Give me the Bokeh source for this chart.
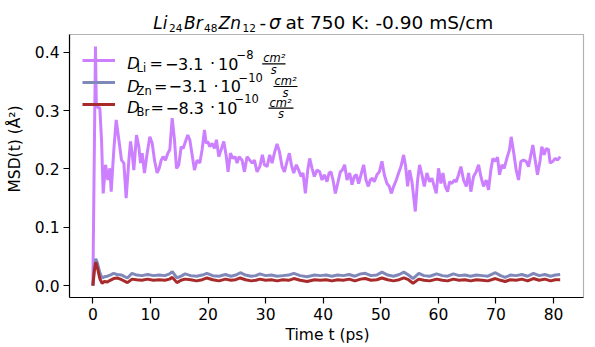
from bokeh.plotting import figure
from bokeh.models import Range1d, FixedTicker, Label, Legend, LegendItem, BoxAnnotation
from bokeh.embed import file_html
from bokeh.resources import INLINE

# ---------------- data ----------------
li_t = [0.0, 0.45, 0.6, 0.9, 1.2, 1.5, 1.79, 2.20, 2.60, 2.95, 3.18, 3.64, 4.05, 4.51, 4.97, 5.38, 5.78,
        6.25, 6.54, 6.82, 7.11, 7.58, 7.98, 8.27, 8.56, 8.96, 9.43, 9.89, 10.30, 10.70, 11.16, 11.51,
        11.86, 12.20, 12.61, 13.01, 13.36, 13.77, 14.17, 14.52, 14.92, 15.33, 15.67, 16.08, 16.48,
        16.83, 17.24, 17.64, 18.10, 18.57, 18.97, 19.38, 19.66, 19.95, 20.30, 20.71, 21.11, 21.46,
        21.86, 22.27, 22.73, 23.13, 23.48, 23.89, 24.29, 24.70, 25.04, 25.39, 25.91, 26.32, 26.78,
        27.24, 27.65, 28.05, 28.51, 28.98, 29.44, 29.79, 30.25, 30.71, 31.12, 31.52, 31.98, 32.39,
        32.85, 33.26, 33.72, 34.12, 34.47, 34.88, 35.34, 35.74, 36.15, 36.49, 36.90, 37.31, 37.65,
        38.06, 38.46, 38.92, 39.39, 39.79, 40.20, 40.66, 41.01, 41.35, 41.70, 42.11, 42.51, 42.97,
        43.32, 43.72, 44.13, 44.59, 45.00, 45.40, 45.75, 46.15, 46.56, 47.02, 47.43, 47.83, 48.18,
        48.53, 48.87, 49.33, 49.74, 50.20, 50.61, 51.07, 51.47, 51.82, 52.23, 52.69, 53.09, 53.50,
        53.96, 54.31, 54.66, 55.00, 55.41, 55.70, 55.99, 56.39, 56.74, 57.14, 57.55, 58.01, 58.47,
        58.88, 59.28, 59.63, 60.03, 60.44, 60.79, 61.19, 61.60, 61.94, 62.35, 62.75, 63.10, 63.50,
        63.91, 64.37, 64.84, 65.24, 65.64, 66.11, 66.57, 66.98, 67.38, 67.84, 68.31, 68.71, 69.11,
        69.46, 69.87, 70.27, 70.62, 71.02, 71.43, 71.89, 72.35, 72.64, 73.05, 73.51, 73.92, 74.32,
        74.78, 75.25, 75.65, 76.06, 76.40, 76.81, 77.21, 77.67, 77.96, 78.37, 78.72, 79.12, 79.41,
        79.88, 80.28, 80.68, 81.15]
li_msd = [0.0, 0.410, 0.310, 0.305, 0.305, 0.250, 0.158, 0.207, 0.181, 0.201, 0.161, 0.233, 0.284,
          0.250, 0.215, 0.210, 0.150, 0.215, 0.247, 0.227, 0.198, 0.258, 0.238, 0.210, 0.227, 0.193,
          0.227, 0.255, 0.244, 0.215, 0.193, 0.201, 0.215, 0.221, 0.215, 0.227, 0.233, 0.287, 0.250,
          0.201, 0.207, 0.238, 0.235, 0.247, 0.258, 0.250, 0.224, 0.198, 0.215, 0.210, 0.233, 0.267,
          0.244, 0.247, 0.238, 0.244, 0.235, 0.250, 0.221, 0.233, 0.247, 0.224, 0.195, 0.227, 0.218,
          0.221, 0.210, 0.221, 0.215, 0.195, 0.221, 0.215, 0.210, 0.215, 0.195, 0.204, 0.224, 0.207,
          0.204, 0.224, 0.210, 0.227, 0.243, 0.230, 0.204, 0.195, 0.213, 0.227, 0.207, 0.193, 0.207,
          0.198, 0.187, 0.193, 0.158, 0.198, 0.218, 0.201, 0.187, 0.198, 0.195, 0.181, 0.190, 0.178,
          0.193, 0.195, 0.181, 0.158, 0.175, 0.195, 0.198, 0.207, 0.181, 0.193, 0.173, 0.187, 0.190,
          0.175, 0.190, 0.207, 0.181, 0.170, 0.181, 0.184, 0.178, 0.190, 0.195, 0.213, 0.190, 0.175,
          0.170, 0.158, 0.170, 0.181, 0.193, 0.204, 0.224, 0.204, 0.170, 0.198, 0.178, 0.153, 0.127,
          0.181, 0.207, 0.190, 0.170, 0.193, 0.178, 0.184, 0.170, 0.158, 0.201, 0.175, 0.193, 0.170,
          0.161, 0.178, 0.175, 0.181, 0.178, 0.190, 0.204, 0.181, 0.170, 0.193, 0.161, 0.187, 0.195,
          0.207, 0.187, 0.170, 0.181, 0.164, 0.198, 0.218, 0.213, 0.220, 0.190, 0.207, 0.201, 0.218,
          0.233, 0.255, 0.230, 0.198, 0.181, 0.213, 0.215, 0.213, 0.204, 0.224, 0.241, 0.215, 0.190,
          0.215, 0.238, 0.224, 0.235, 0.233, 0.210, 0.213, 0.218, 0.215, 0.221]

zb_t = [0.0, 0.25, 0.5, 0.8, 1.2, 1.6, 2.0, 2.5, 3.0, 3.6, 4.2, 5.0, 6.0, 6.8, 7.6, 8.5, 9.5, 10.5,
        11.5, 12.5, 13.3, 13.8, 14.6, 15.3, 16.0, 17.0, 18.0, 19.0, 19.8, 20.8, 21.9, 23.0, 24.0,
        24.8, 25.6, 26.5, 27.5, 28.3, 29.0, 30.0, 31.0, 32.0, 33.0, 34.0, 34.9, 36.0, 37.2, 38.5,
        39.5, 40.5, 41.5, 42.5, 43.5, 44.5, 45.5, 46.5, 47.3, 48.3, 49.3, 50.2, 51.2, 52.2, 53.2,
        54.0, 54.8, 55.6, 56.6, 57.5, 58.5, 59.7, 60.7, 61.6, 62.6, 63.6, 64.6, 65.6, 66.6, 67.6,
        68.6, 69.9, 70.8, 71.6, 72.5, 73.5, 74.5, 75.5, 76.5, 77.5, 78.5, 79.5, 80.3, 81.15]
zn_msd = [0.0, 0.030, 0.046, 0.038, 0.022, 0.013, 0.015, 0.016, 0.018, 0.021, 0.019, 0.018, 0.013,
          0.021, 0.018, 0.017, 0.019, 0.017, 0.018, 0.017, 0.020, 0.024, 0.013, 0.016, 0.020, 0.017,
          0.016, 0.018, 0.021, 0.017, 0.016, 0.019, 0.016, 0.018, 0.022, 0.018, 0.016, 0.017, 0.020,
          0.017, 0.018, 0.016, 0.017, 0.018, 0.021, 0.017, 0.015, 0.018, 0.017, 0.018, 0.016, 0.018,
          0.017, 0.019, 0.016, 0.020, 0.021, 0.017, 0.018, 0.023, 0.018, 0.016, 0.019, 0.023, 0.018,
          0.012, 0.021, 0.017, 0.016, 0.020, 0.017, 0.016, 0.020, 0.017, 0.018, 0.016, 0.018, 0.017,
          0.016, 0.022, 0.017, 0.014, 0.018, 0.017, 0.019, 0.016, 0.021, 0.017, 0.019, 0.016, 0.018,
          0.019]
br_msd = [0.0, 0.025, 0.040, 0.030, 0.012, 0.004, 0.007, 0.006, 0.009, 0.012, 0.013, 0.010, 0.005,
          0.011, 0.010, 0.009, 0.011, 0.009, 0.010, 0.009, 0.011, 0.014, 0.005, 0.009, 0.011, 0.010,
          0.008, 0.010, 0.013, 0.010, 0.008, 0.011, 0.009, 0.010, 0.013, 0.010, 0.008, 0.009, 0.011,
          0.009, 0.010, 0.008, 0.010, 0.009, 0.012, 0.009, 0.007, 0.010, 0.009, 0.010, 0.008, 0.010,
          0.009, 0.011, 0.008, 0.011, 0.012, 0.009, 0.010, 0.013, 0.010, 0.008, 0.010, 0.013, 0.010,
          0.004, 0.011, 0.009, 0.008, 0.011, 0.009, 0.008, 0.011, 0.009, 0.010, 0.008, 0.010, 0.009,
          0.008, 0.012, 0.009, 0.007, 0.010, 0.009, 0.011, 0.008, 0.012, 0.009, 0.011, 0.008, 0.010,
          0.010]

x_ticks = [0, 10, 20, 30, 40, 50, 60, 70, 80]
y_ticks = [0.0, 0.1, 0.2, 0.3, 0.4]
y_tick_labels = ["0.0", "0.1", "0.2", "0.3", "0.4"]

# ---------------- styling ----------------
FONT = "DejaVu Sans"
FS = "15.5px"
LFS = 16
C_LI = "#CC80FF"
C_ZN = "#8088BA"
C_BR = "#A82A2A"

# axes box position in page pixels; the drawing frame reaches up to the page top
FL, FT, FW, FH = 69, 34, 514, 263
EXTRA = 2                              # frame runs 2px past the box on the right
FB = FT + FH
X0, X1 = -4.06, 85.2
Y0, Y1 = -0.0205, 0.4305
Y_PAGE_TOP = Y1 + FT * (Y1 - Y0) / FH
X_FRAME_END = X1 + EXTRA * (X1 - X0) / FW

p = figure(frame_width=FW + EXTRA, frame_height=FB,
           min_border_left=FL, min_border_top=0, min_border_right=595 - FL - FW - EXTRA,
           min_border_bottom=347 - FB,
           x_range=Range1d(X0, X_FRAME_END), y_range=Range1d(Y0, Y_PAGE_TOP),
           output_backend="svg", toolbar_location=None, title=None)
p.background_fill_color = "white"
p.border_fill_color = "white"
p.outline_line_color = None
p.xgrid.visible = False
p.ygrid.visible = False

p.xaxis.ticker = FixedTicker(ticks=x_ticks)
p.yaxis.ticker = FixedTicker(ticks=y_ticks)
p.xaxis.bounds = (X0, X1)
p.yaxis.bounds = (Y0, Y1)
p.yaxis.major_label_overrides = {t: s for t, s in zip(y_ticks, y_tick_labels)}
for ax in (p.xaxis, p.yaxis):
    ax.axis_line_color = "black"
    ax.axis_line_width = 1.2
    ax.major_tick_line_color = "black"
    ax.major_tick_line_width = 1.2
    ax.major_tick_out = 6
    ax.major_tick_in = 0
    ax.minor_tick_out = 0
    ax.minor_tick_in = 0
    ax.major_label_text_font = FONT
    ax.major_label_text_font_size = FS
    ax.major_label_text_color = "black"
    ax.axis_label_text_font = FONT
    ax.axis_label_text_font_size = FS
    ax.axis_label_text_font_style = "normal"
    ax.axis_label_text_color = "black"
    ax.major_label_standoff = 4
p.xaxis.axis_label_standoff = 3
p.yaxis.axis_label_standoff = 8
p.xaxis.axis_label = "Time t (ps)"
p.yaxis.axis_label = "MSD(t) (Å²)"

# axes box (top and right spines; left/bottom coincide with the axis lines)
p.add_layout(BoxAnnotation(left=X0, right=X1, bottom=Y0, top=Y1, fill_alpha=0,
                           line_color="black", line_width=1.2, level="overlay"))

r_li = p.line(li_t, li_msd, line_color=C_LI, line_width=3)
r_zn = p.line(zb_t, zn_msd, line_color=C_ZN, line_width=3)
r_br = p.line(zb_t, br_msd, line_color=C_BR, line_width=3)

legend = Legend(items=[LegendItem(label=" ", renderers=[r_li]),
                       LegendItem(label=" ", renderers=[r_zn]),
                       LegendItem(label=" ", renderers=[r_br])],
                location=(13, FB - 114.4), glyph_width=33, glyph_height=20,
                label_height=20, label_width=1, label_standoff=0, spacing=2,
                padding=0, margin=0, border_line_alpha=0, background_fill_alpha=0,
                label_text_font_size="2px")
p.add_layout(legend)


def put(text, ix, iy, size=LFS, style="normal", align="left"):
    """Place text with its baseline at page pixel (ix, iy)."""
    lift = 0.22 * size
    p.add_layout(Label(x=ix - FL, y=FB - iy + lift, x_units="screen", y_units="screen",
                       text=text, text_font=FONT, text_font_size=f"{size}px",
                       text_font_style=style, text_align=align,
                       text_baseline="alphabetic", text_color="black"))


def frac_bar(x0, x1, iy):
    p.add_layout(BoxAnnotation(left=x0 - FL, right=x1 - FL, top=FB - iy + 0.6,
                               bottom=FB - iy - 0.6, left_units="screen",
                               right_units="screen", top_units="screen",
                               bottom_units="screen", fill_color="black",
                               fill_alpha=1, line_alpha=0))


# title
TS, TI, TSS = 18.5, 17, 10.5
put("Li", 152.7, 26, TI, "italic")
put("24", 168.5, 30, TSS)
put("Br", 183.5, 26, TI, "italic")
put("48", 203.5, 30, TSS)
put("Zn", 218, 26, TI, "italic")
put("12", 242, 30, TSS)
put("-", 259, 26, TS)
put("σ", 268.5, 26, TS, "italic")
put("at 750 K: -0.90 mS/cm", 285, 26, TS)

# legend texts
SUB = 11.5
rows = [
    (60.0, "Li", [("=", 149), ("−", 164.5), ("3.1", 177.5), ("·", 209.5), ("10", 217.5)], ("−8", 236), (261.7, 285)),
    (82.7, "Zn", [("=", 153.5), ("−", 168), ("3.1", 181.5), ("·", 213), ("10", 220)], ("−10", 238), (273, 297)),
    (104.3, "Br", [("=", 150), ("−", 165), ("8.3", 178), ("·", 209.5), ("10", 216.5)], ("−10", 234), (268, 293)),
]
for y, sub, parts, sup, (f0, f1) in rows:
    put("D", 126.7, y + 6.7, LFS, "italic")
    put(sub, 136, y + 10, SUB)
    for s, x in parts:
        put(s, x, y + 6.7, LFS)
    put(sup[0], sup[1], y - 3.3, SUB)
    put("cm²", f0 + 1, y + 0.5, SUB, "italic")
    put("s", (f0 + f1) / 2, y + 12, SUB, "italic", "center")
    frac_bar(f0, f1, y + 3.3)

open("out.html", "w").write(file_html(p, INLINE))
